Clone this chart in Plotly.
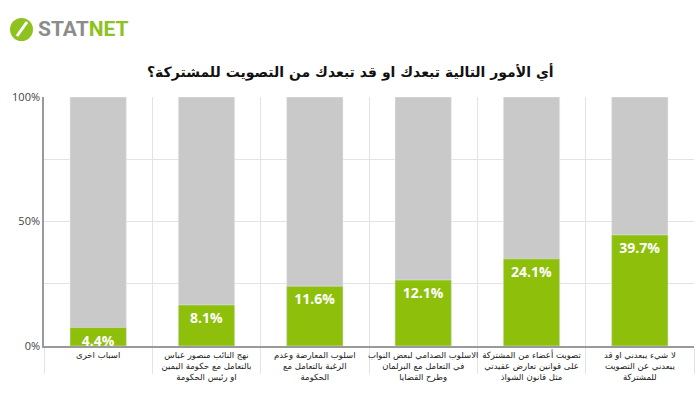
import plotly.graph_objects as go

categories = [
    "اسباب اخرى",
    "نهج النائب منصور عباس<br>بالتعامل مع حكومة اليمين<br>او رئيس الحكومة",
    "اسلوب المعارضة وعدم<br>الرغبة بالتعامل مع<br>الحكومة",
    "الاسلوب الصدامي لبعض النواب<br>في التعامل مع البرلمان<br>وطرح القضايا",
    "تصويت أعضاء من المشتركة<br>على قوانين تعارض عقيدتي<br>مثل قانون الشواذ",
    "لا شيء يبعدني او قد<br>يبعدني عن التصويت<br>للمشتركة",
]
# values printed on the bars
values_pct = [4.4, 8.1, 11.6, 12.1, 24.1, 39.7]
# bar heights as drawn in the picture (percent of axis)
bar_heights = [7.4, 16.5, 24.0, 26.5, 35.0, 44.6]
totals = [100, 100, 100, 100, 100, 100]
y_ticks = [0, 25, 50, 75, 100]
y_ticktext = ["0%", "", "50%", "", "100%"]

title = "أي الأمور التالية تبعدك او قد تبعدك من التصويت للمشتركة؟"

GREEN = "#8dbf0b"
GRAY_BAR = "#c9c9c9"

L, R, T, B = 44, 6, 97, 48
PW, PH = 700 - L - R, 394 - T - B


def px_x(x):
    return (x - L) / PW


def px_y(y):
    return (394 - B - y) / PH


fig = go.Figure()
fig.add_trace(go.Bar(
    x=categories, y=totals, marker_color=GRAY_BAR, width=0.52,
    hoverinfo="skip", showlegend=False,
))
fig.add_trace(go.Bar(
    x=categories, y=bar_heights, marker_color=GREEN, width=0.52,
    text=[f"{v}%" for v in values_pct],
    textposition="inside", insidetextanchor="end", textangle=0,
    constraintext="none", cliponaxis=False,
    textfont=dict(family="Open Sans", size=14, color="white", weight="bold"),
    showlegend=False,
))

fig.update_layout(
    width=700, height=394,
    margin=dict(l=L, r=R, t=T, b=B, autoexpand=False),
    barmode="overlay",
    plot_bgcolor="white", paper_bgcolor="white",
    font=dict(family="DejaVu Sans", color="#222"),
    xaxis=dict(
        type="category", tickson="boundaries", showgrid=True,
        gridcolor="#e3e3e3", gridwidth=1,
        ticks="outside", ticklen=26, tickcolor="#e3e3e3",
        showline=True, linecolor="#9a9a9a", linewidth=1.5,
        tickangle=0, automargin=False,
        tickfont=dict(family="DejaVu Sans", size=8.5, color="#222"),
        fixedrange=True,
    ),
    yaxis=dict(
        range=[0, 100], tickvals=y_ticks, ticktext=y_ticktext,
        showgrid=True, gridcolor="#e3e3e3", zeroline=False,
        showline=True, linecolor="#9a9a9a", linewidth=1.5,
        tickfont=dict(family="Open Sans", size=11, color="#444"),
        ticks="", automargin=False,
    ),
    annotations=[
        dict(text=title, xref="paper", yref="paper", x=px_x(350), y=px_y(73),
             showarrow=False, font=dict(family="DejaVu Sans", size=14, color="#111", weight="bold"),
             xanchor="center", yanchor="middle"),
        dict(text="<span style='color:#8c8c8c'>STAT</span><span style='color:#8dc21f'>NET</span>",
             xref="paper", yref="paper", x=px_x(36), y=px_y(29),
             showarrow=False, xanchor="left", yanchor="middle",
             font=dict(family="Roboto", size=21, weight="bold")),
    ],
)
fig.add_shape(type="circle", xref="paper", yref="paper",
              x0=px_x(10), x1=px_x(33), y0=px_y(41), y1=px_y(18),
              fillcolor="#8dc21f", line=dict(width=0))
fig.add_shape(type="line", xref="paper", yref="paper",
              x0=px_x(17), x1=px_x(27), y0=px_y(36), y1=px_y(22),
              line=dict(color="white", width=3))

fig.write_html("out.html", config={"displayModeBar": False},
               post_script="document.body.style.margin='0';")
